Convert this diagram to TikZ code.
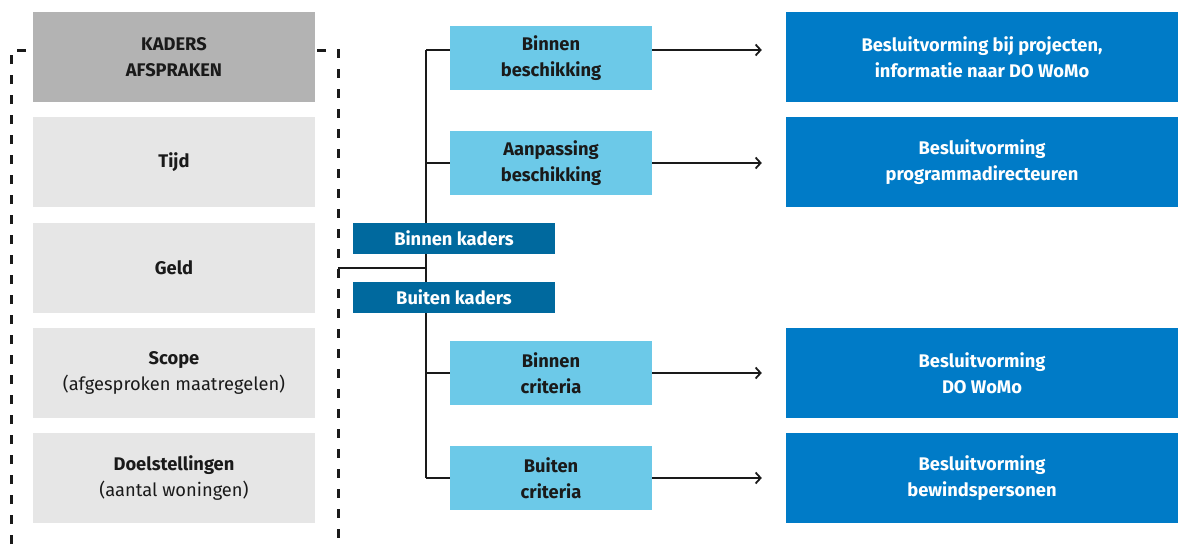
\documentclass[tikz,border=0pt]{standalone}
\usepackage{fontspec}
\setmainfont{Fira Sans}
\usetikzlibrary{arrows.meta,backgrounds}
\definecolor{gA}{HTML}{B3B3B3}
\definecolor{gB}{HTML}{E6E6E6}
\definecolor{lb}{HTML}{6CC9E8}
\definecolor{db}{HTML}{007BC7}
\definecolor{kb}{HTML}{00699E}
\definecolor{ink}{HTML}{1A1A1A}
\begin{document}
\begin{tikzpicture}[x=1pt,y=-1pt,
  base/.style={inner sep=0pt, align=center, font=\fontsize{18.3}{25.5}\selectfont},
  gbox/.style={base, fill=gB, minimum width=282pt, minimum height=90pt, text=ink},
  hbox/.style={gbox, fill=gA},
  lbox/.style={base, fill=lb, minimum width=202pt, minimum height=64pt, text=ink, font=\fontsize{18.3}{25.5}\selectfont\bfseries},
  kbox/.style={base, fill=kb, minimum width=202pt, minimum height=31pt, text=white, font=\fontsize{18.3}{25.5}\selectfont\bfseries},
  dbox/.style={base, fill=db, minimum width=392pt, minimum height=90pt, text=white, font=\fontsize{18.3}{25.5}\selectfont\bfseries},
  conn/.style={draw=ink, line width=1.8pt},
  arr/.style={conn, -{Straight Barb[length=5pt,width=11pt]}},
  bracket/.style={draw=ink, line width=3pt, dash pattern=on 9pt off 11pt}]
\useasboundingbox (0,0) rectangle (1178,544);

% left column
\node[hbox] (kad) at (174,57) {\bfseries KADERS\\\bfseries AFSPRAKEN};
\node[gbox] (tijd) at (174,162) {\bfseries Tijd};
\node[gbox] (geld) at (174,268) {\bfseries Geld};
\node[gbox] (scope) at (174,373) {\bfseries Scope\\(afgesproken maatregelen)};
\node[gbox] (doel) at (174,478) {\bfseries Doelstellingen\\(aantal woningen)};

% middle
\node[lbox] (bb) at (551,58) {Binnen\\beschikking};
\node[lbox] (ab) at (551,163) {Aanpassing\\beschikking};
\node[kbox] (bk) at (454,238.5) {Binnen kaders};
\node[kbox] (uk) at (454,297.5) {Buiten kaders};
\node[lbox] (bc) at (551,373) {Binnen\\criteria};
\node[lbox] (uc) at (551,478) {Buiten\\criteria};

% right
\node[dbox] (d1) at (982,57) {Besluitvorming bij projecten,\\informatie naar DO WoMo};
\node[dbox] (d2) at (982,162) {Besluitvorming\\programmadirecteuren};
\node[dbox] (d3) at (982,373) {Besluitvorming\\DO WoMo};
\node[dbox] (d4) at (982,478) {Besluitvorming\\bewindspersonen};

\coordinate (t1) at (426,50);
\coordinate (t2) at (426,163);
\coordinate (t3) at (426,373);
\coordinate (t4) at (426,478);
\coordinate (tj) at (426,268);
\coordinate (br) at (338,268);

\begin{pgfonlayer}{background}
\draw[bracket] (11,544) -- (11,50) -- (338,50) -- (338,544);
\draw[conn] (br) -- (tj);
\draw[conn] (t1) -- (t4);
\draw[conn] (t1) -- (bb.west|-t1);
\draw[conn] (t2) -- (ab.west|-t2);
\draw[conn] (t3) -- (bc.west|-t3);
\draw[conn] (t4) -- (uc.west|-t4);
\draw[arr] (bb.east|-t1) -- ([xshift=-24pt]d1.west|-t1);
\draw[arr] (ab.east|-t2) -- ([xshift=-24pt]d2.west|-t2);
\draw[arr] (bc.east|-t3) -- ([xshift=-24pt]d3.west|-t3);
\draw[arr] (uc.east|-t4) -- ([xshift=-24pt]d4.west|-t4);
\end{pgfonlayer}
\end{tikzpicture}
\end{document}
